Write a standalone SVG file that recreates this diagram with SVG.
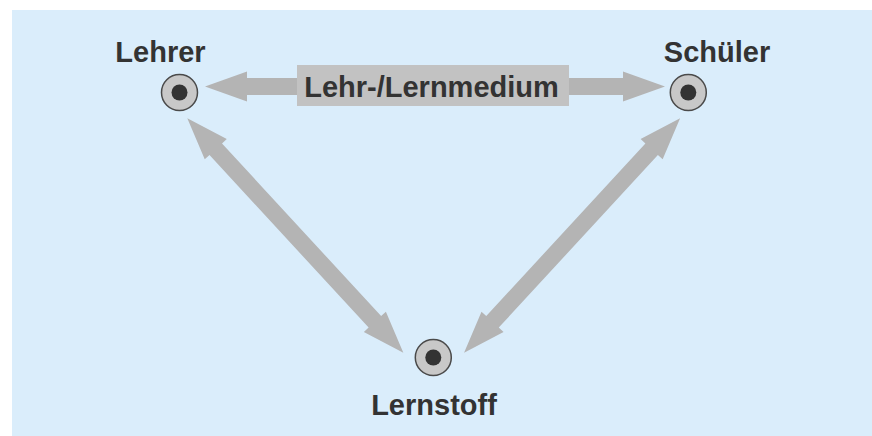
<svg xmlns="http://www.w3.org/2000/svg" width="872" height="436" viewBox="0 0 872 436">
  <style>
    .bg { fill: #daedfb; }
    .arrow { fill: #b4b4b4; }
    .tag { fill: #c2c2c2; }
    .ring { fill: #c8c8c8; stroke: #4a4a4a; stroke-width: 1.5; }
    .dot { fill: #333333; }
    .label { font-family: "Liberation Sans", Arial, Helvetica, sans-serif; font-weight: bold; font-size: 29px; fill: #333333; text-anchor: middle; }
  </style>
  <defs>
    <!-- double-headed arrow of length 318.8 along the x axis -->
    <path id="diag" d="M0,0 L42,-15 L42,-8.5 L276.8,-8.5 L276.8,-15 L318.8,0 L276.8,15 L276.8,8.5 L42,8.5 L42,15 Z"/>
  </defs>

  <rect class="bg" x="12" y="10" width="860" height="426"/>

  <g id="connectors">
    <path class="arrow" d="M205,86.5 L247,71.5 L247,78 L623,78 L623,71.5 L665,86.5 L623,101.5 L623,95 L247,95 L247,101.5 Z"/>
    <use href="#diag" class="arrow" transform="translate(187.3,118.3) rotate(47.34)"/>
    <use href="#diag" class="arrow" transform="translate(680.1,118.3) rotate(132.66)"/>
  </g>

  <g id="medium">
    <rect class="tag" x="297" y="65" width="272" height="41"/>
    <text class="label" x="431.5" y="96.5">Lehr-/Lernmedium</text>
  </g>

  <g id="lehrer">
    <text class="label" x="160.5" y="62">Lehrer</text>
    <circle class="ring" cx="179.5" cy="92.5" r="18"/>
    <circle class="dot" cx="179.5" cy="92.5" r="8"/>
  </g>

  <g id="schueler">
    <text class="label" x="717" y="62">Schüler</text>
    <circle class="ring" cx="688.3" cy="92.5" r="18"/>
    <circle class="dot" cx="688.3" cy="92.5" r="8"/>
  </g>

  <g id="lernstoff">
    <circle class="ring" cx="433.3" cy="357.5" r="18"/>
    <circle class="dot" cx="433.3" cy="357.5" r="8"/>
    <text class="label" x="434" y="415">Lernstoff</text>
  </g>
</svg>
